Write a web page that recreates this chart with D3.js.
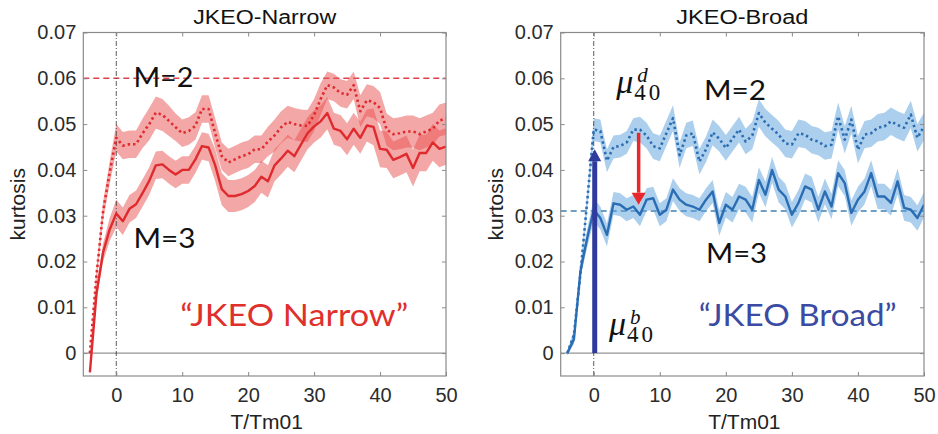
<!DOCTYPE html>
<html>
<head>
<meta charset="utf-8">
<script src="https://cdn.jsdelivr.net/npm/d3@7/dist/d3.min.js"></script>
<style>
body { margin: 0; background: #fff; }
svg text { font-family: "Liberation Sans", Arial, sans-serif; }
</style>
</head>
<body>
<svg id="base" width="938" height="434"></svg>
<script>
// time axis, T/Tm01
const T = [-4, -3, -2, -1, 0, 1, 2, 3, 4, 5, 6, 7, 8, 9, 10, 11, 12, 13, 14, 15, 16, 17, 18, 19, 20,
  21, 22, 23, 24, 25, 26, 27, 28, 29, 30, 31, 32, 33, 34, 35, 36, 37, 38, 39, 40,
  41, 42, 43, 44, 45, 46, 47, 48, 49, 50]

const xTicks = [0, 10, 20, 30, 40, 50]
const yTicks = [0, 0.01, 0.02, 0.03, 0.04, 0.05, 0.06, 0.07]

// JKEO-Narrow, M=2 (dotted) and M=3 (solid)
const narrowM2 = [0.0, 0.017, 0.031, 0.0394, 0.047, 0.0453, 0.0456, 0.0456, 0.048, 0.050, 0.0525,
  0.052, 0.0507, 0.0493, 0.048, 0.0485, 0.0496, 0.0533, 0.0533, 0.048, 0.043, 0.0416, 0.0423,
  0.043, 0.0434, 0.0445, 0.0445, 0.0462, 0.0475, 0.0493, 0.0505, 0.050, 0.0497, 0.0496, 0.052,
  0.0555, 0.0585, 0.058, 0.0568, 0.0564, 0.0585, 0.0528, 0.0552, 0.0548, 0.0535, 0.0488, 0.0478,
  0.048, 0.0484, 0.0484, 0.0478, 0.0484, 0.049, 0.0508, 0.0512]
const narrowM2Err = [0.0005, 0.0015, 0.002, 0.0025, 0.003, 0.003, 0.003, 0.003, 0.0032, 0.0035, 0.0035,
  0.0035, 0.0033, 0.003, 0.003, 0.003, 0.003, 0.003, 0.003, 0.0032, 0.003, 0.003, 0.003,
  0.003, 0.003, 0.003, 0.003, 0.0032, 0.0035, 0.0035, 0.0035, 0.0035, 0.0035, 0.0035, 0.0035,
  0.0035, 0.003, 0.003, 0.003, 0.003, 0.003, 0.0035, 0.0035, 0.0035, 0.0035, 0.0035, 0.0035,
  0.0035, 0.0035, 0.0035, 0.0035, 0.0035, 0.0035, 0.0035, 0.0035]
const narrowM3 = [-0.0042, 0.013, 0.022, 0.027, 0.0305, 0.0288, 0.0315, 0.0325, 0.035, 0.0376, 0.041,
  0.0412, 0.040, 0.039, 0.040, 0.040, 0.0423, 0.0452, 0.0449, 0.041, 0.0358, 0.0343, 0.0343,
  0.0347, 0.0354, 0.0365, 0.0385, 0.0375, 0.041, 0.0425, 0.0442, 0.043, 0.0455, 0.048, 0.0495,
  0.0506, 0.0524, 0.049, 0.0485, 0.0467, 0.049, 0.047, 0.0497, 0.0494, 0.0446, 0.0444, 0.0422,
  0.0428, 0.0435, 0.0404, 0.0437, 0.0437, 0.046, 0.0446, 0.0451]
const narrowM3Err = [0.0005, 0.0015, 0.002, 0.0025, 0.003, 0.003, 0.003, 0.003, 0.003, 0.003, 0.003,
  0.003, 0.003, 0.003, 0.003, 0.003, 0.003, 0.003, 0.003, 0.0035, 0.0035, 0.0035, 0.0035,
  0.0035, 0.0035, 0.0035, 0.0035, 0.0035, 0.0035, 0.0035, 0.0035, 0.0035, 0.0035, 0.0035, 0.0035,
  0.0035, 0.0035, 0.0035, 0.0035, 0.0035, 0.0035, 0.0035, 0.0035, 0.004, 0.004, 0.004, 0.004,
  0.004, 0.004, 0.004, 0.004, 0.004, 0.004, 0.004, 0.004]

// JKEO-Broad, M=2 (dotted) and M=3 (solid)
const broadM2 = [0.0, 0.004, 0.0175, 0.033, 0.0488, 0.0485, 0.042, 0.045, 0.0452, 0.046, 0.0488,
  0.0488, 0.0475, 0.0452, 0.0447, 0.048, 0.0513, 0.0432, 0.0475, 0.048, 0.0418, 0.0445, 0.0482,
  0.0468, 0.0448, 0.0468, 0.0488, 0.0462, 0.0475, 0.0524, 0.0503, 0.049, 0.0477, 0.0458, 0.0455,
  0.048, 0.0477, 0.0466, 0.0462, 0.0452, 0.0455, 0.0517, 0.0466, 0.051, 0.0444, 0.0477, 0.048,
  0.0492, 0.0495, 0.0506, 0.0498, 0.0492, 0.0521, 0.047, 0.0495]
const broadM2Err = [0.0005, 0.001, 0.0015, 0.002, 0.0025, 0.0025, 0.0025, 0.0025, 0.0025, 0.0025, 0.0025,
  0.0028, 0.0028, 0.0028, 0.0028, 0.0028, 0.0028, 0.0028, 0.0028, 0.0028, 0.0028, 0.0028, 0.0028,
  0.0028, 0.0028, 0.0028, 0.0028, 0.0028, 0.003, 0.003, 0.003, 0.003, 0.003, 0.003, 0.003,
  0.003, 0.003, 0.003, 0.003, 0.003, 0.003, 0.003, 0.003, 0.003, 0.003, 0.003, 0.003,
  0.003, 0.003, 0.003, 0.003, 0.003, 0.003, 0.003, 0.003]
const broadM3 = [0.0, 0.003, 0.018, 0.025, 0.0313, 0.0295, 0.0258, 0.0327, 0.0324, 0.0313, 0.032,
  0.0302, 0.0335, 0.0338, 0.0302, 0.0313, 0.0357, 0.0335, 0.0324, 0.032, 0.0313, 0.0335, 0.0353,
  0.0284, 0.0324, 0.0313, 0.0342, 0.0335, 0.0313, 0.0378, 0.0346, 0.040, 0.0357, 0.0342, 0.0302,
  0.0328, 0.0364, 0.0357, 0.0313, 0.0353, 0.032, 0.0393, 0.0371, 0.0306, 0.0335, 0.0353, 0.0393,
  0.0342, 0.0342, 0.0328, 0.0375, 0.0317, 0.0313, 0.0295, 0.0324]
const broadM3Err = [0.0005, 0.001, 0.0015, 0.002, 0.0025, 0.0025, 0.0025, 0.0025, 0.0025, 0.0025, 0.0025,
  0.0025, 0.0025, 0.0025, 0.0025, 0.0025, 0.0025, 0.0025, 0.0025, 0.0025, 0.0025, 0.0025, 0.0025,
  0.0028, 0.0028, 0.0028, 0.0028, 0.0028, 0.0028, 0.0028, 0.0028, 0.0028, 0.0028, 0.0028, 0.0028,
  0.0028, 0.0028, 0.0028, 0.0028, 0.0028, 0.0028, 0.0028, 0.0028, 0.0028, 0.0028, 0.0028, 0.0028,
  0.0028, 0.0028, 0.0028, 0.0028, 0.0028, 0.0028, 0.0028, 0.0028]

const narrowRef = 0.06   // dashed reference line, left
const broadRef = 0.031   // dashed reference line, right

const svg = d3.select('#base')
const yRange = [376, 32.5]

function drawPanel(p) {
    const x = d3.scaleLinear().domain([-5, 50]).range([p.x0, p.x1])
    const y = d3.scaleLinear().domain([-0.005, 0.07]).range(yRange)
    const g = svg.append('g')
    const clipId = 'clip' + p.id
    g.append('clipPath').attr('id', clipId).append('rect')
        .attr('x', p.x0).attr('y', yRange[1]).attr('width', p.x1 - p.x0).attr('height', yRange[0] - yRange[1])
    const plot = g.append('g').attr('clip-path', 'url(#' + clipId + ')')

    // zero line
    plot.append('line')
        .attr('x1', p.x0).attr('x2', p.x1).attr('y1', y(0)).attr('y2', y(0))
        .style('stroke', '#7a7a7a').style('stroke-width', 1)

    // dashed reference level
    plot.append('line')
        .attr('x1', p.x0).attr('x2', p.x1).attr('y1', y(p.ref)).attr('y2', y(p.ref))
        .style('stroke', p.refColor).style('stroke-width', 1.5).style('stroke-dasharray', '6,4')

    // error bands
    p.series.forEach(s => {
        const area = d3.area()
            .x((d, i) => x(T[i]))
            .y0((d, i) => y(d - s.err[i]))
            .y1((d, i) => y(d + s.err[i]))
        plot.append('path').datum(s.values).attr('d', area)
            .style('fill', p.bandColor).style('fill-opacity', p.bandOpacity)
    })

    // dash-dot line at T=0
    plot.append('line')
        .attr('x1', x(0)).attr('x2', x(0)).attr('y1', yRange[0]).attr('y2', yRange[1])
        .style('stroke', '#333').style('stroke-width', 0.8).style('stroke-dasharray', '5,2,1,2')

    // lines
    const line = d3.line().x((d, i) => x(T[i])).y(d => y(d))
    p.series.forEach(s => {
        plot.append('path').datum(s.values).attr('d', line)
            .style('fill', 'none').style('stroke', p.lineColor)
            .style('stroke-width', s.dotted ? 2.6 : 2.4)
            .style('stroke-dasharray', s.dotted ? '2.4,3' : null)
            .style('stroke-linejoin', 'round')
    })

    // axes, ticks inward on all four sides
    const fmt = d => d === 0 ? '0' : d3.format('.2f')(d)
    const axes = [
        [d3.axisBottom(x).tickValues(xTicks).tickSize(-4).tickPadding(12), 'translate(0,' + yRange[0] + ')'],
        [d3.axisTop(x).tickValues(xTicks).tickSize(-4).tickFormat(''), 'translate(0,' + yRange[1] + ')'],
        [d3.axisLeft(y).tickValues(yTicks).tickSize(-4).tickPadding(7).tickFormat(fmt), 'translate(' + p.x0 + ',0)'],
        [d3.axisRight(y).tickValues(yTicks).tickSize(-4).tickFormat(''), 'translate(' + p.x1 + ',0)']
    ]
    axes.forEach(a => {
        const ag = g.append('g').attr('transform', a[1]).call(a[0])
        ag.select('.domain').remove()
        ag.selectAll('line').style('stroke', '#8a8a8a')
        ag.selectAll('text').style('font-size', '20px').style('fill', '#2b2b2b')
            .style('font-family', '"Liberation Sans", Arial, sans-serif')
    })

    // box
    g.append('rect')
        .attr('x', p.x0).attr('y', yRange[1]).attr('width', p.x1 - p.x0).attr('height', yRange[0] - yRange[1])
        .style('fill', 'none').style('stroke', '#8a8a8a').style('stroke-width', 1.2)

    // title and labels
    const cx = (p.x0 + p.x1) / 2
    g.append('text').attr('x', cx).attr('y', 24).attr('text-anchor', 'middle')
        .attr('textLength', p.titleW).attr('lengthAdjust', 'spacingAndGlyphs')
        .style('font-size', '20px').style('fill', '#111').text(p.title)
    g.append('text').attr('x', cx + 2).attr('y', 429).attr('text-anchor', 'middle')
        .style('font-size', '21px').style('fill', '#222').text('T/Tm01')
    g.append('text').attr('transform', 'translate(' + (p.x0 - 58) + ',' + ((yRange[0] + yRange[1]) / 2) + ') rotate(-90)')
        .attr('text-anchor', 'middle')
        .style('font-size', '21px').style('fill', '#222').text('kurtosis')

    return { x: x, y: y, g: g }
}

function label(g, px, py, txt, size, color, w) {
    g.append('text').attr('x', px).attr('y', py)
        .attr('textLength', w).attr('lengthAdjust', 'spacingAndGlyphs')
        .style('font-family', 'Lato, "Open Sans", sans-serif')
        .style('font-size', size + 'px').style('fill', color).text(txt)
}

// mu with superscript and subscript 40, as one text element
function mu(g, px, py, sup) {
    const t = g.append('text').attr('x', px).attr('y', py)
        .style('font-family', '"Liberation Serif", "DejaVu Serif", serif').style('fill', '#111')
    t.append('tspan').style('font-style', 'italic').style('font-size', '34px').text('μ')
    t.append('tspan').attr('x', px + 21).attr('y', py - 11)
        .style('font-style', 'italic').style('font-size', '21px').text(sup)
    t.append('tspan').attr('x', px + 18).attr('y', py + 7)
        .style('font-size', '23px').style('letter-spacing', '3px').text('40')
}

function arrow(g, px, yFrom, yTo, color, w, headW, headL) {
    const dir = yTo < yFrom ? 1 : -1
    const base = yTo + dir * headL
    g.append('line').attr('x1', px).attr('x2', px).attr('y1', yFrom).attr('y2', base)
        .style('stroke', color).style('stroke-width', w)
    g.append('path')
        .attr('d', 'M' + px + ',' + yTo + 'L' + (px - headW / 2) + ',' + base + 'L' + (px + headW / 2) + ',' + base + 'Z')
        .style('fill', color)
}

// left panel
const L = drawPanel({
    id: 'L', x0: 83.3, x1: 446, title: 'JKEO-Narrow', titleW: 143,
    ref: narrowRef, refColor: '#e0404c',
    bandColor: '#ea5050', bandOpacity: 0.5, lineColor: '#df2a2e',
    series: [
        { values: narrowM2, err: narrowM2Err, dotted: true },
        { values: narrowM3, err: narrowM3Err, dotted: false }
    ]
})
label(L.g, L.x(2.6), L.y(0.0582), 'M=2', 27, '#111', 60)
label(L.g, L.x(2.6), L.y(0.023), 'M=3', 27, '#111', 62)
label(L.g, L.x(9.7), L.y(0.0059), '\u201CJKEO Narrow\u201D', 31, '#e0302c', 228)

// right panel
const R = drawPanel({
    id: 'R', x0: 560.7, x1: 924, title: 'JKEO-Broad', titleW: 132,
    ref: broadRef, refColor: '#3f7fae',
    bandColor: '#5a9fdc', bandOpacity: 0.5, lineColor: '#2b6db3',
    series: [
        { values: broadM2, err: broadM2Err, dotted: true },
        { values: broadM3, err: broadM3Err, dotted: false }
    ]
})
label(R.g, R.x(16.7), R.y(0.0553), 'M=2', 27, '#111', 62)
label(R.g, R.x(17), R.y(0.0197), 'M=3', 27, '#111', 61)
label(R.g, R.x(15.9), R.y(0.0059), '\u201CJKEO Broad\u201D', 31, '#3b4aa3', 198)
mu(R.g, R.x(3.4), R.y(0.0567), 'd')
mu(R.g, R.x(2.3), R.y(0.004), 'b')
arrow(R.g, R.x(0.15), R.y(0), R.y(0.0445), '#2e3b9c', 5, 13, 12)
arrow(R.g, R.x(6.8), R.y(0.0481), R.y(0.0324), '#e8272c', 3.5, 14, 12)
</script>
</body>
</html>
